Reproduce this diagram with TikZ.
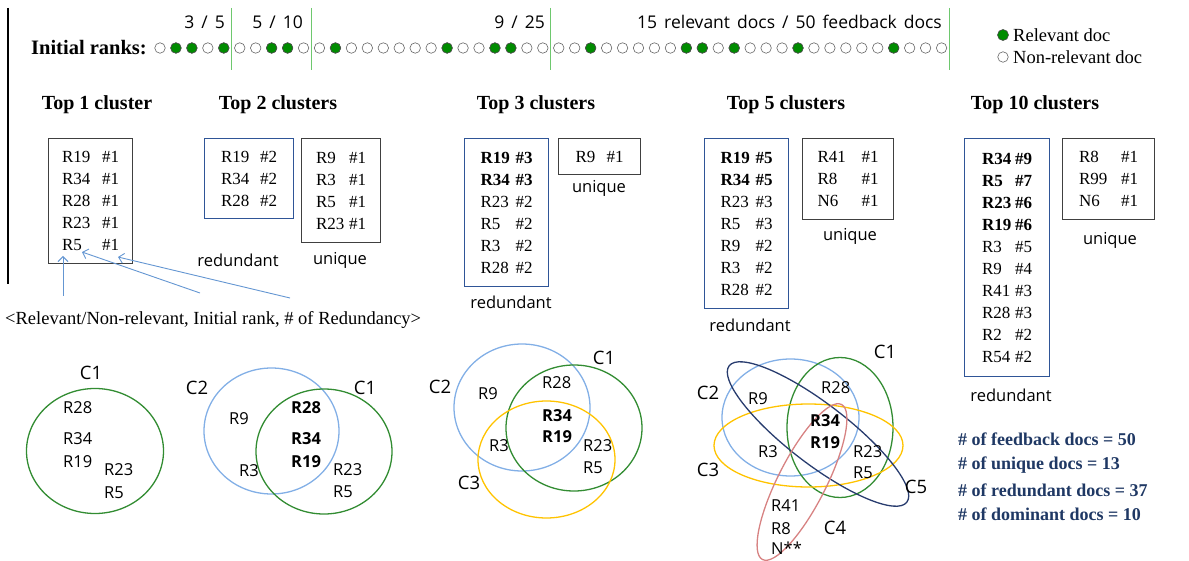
\documentclass[tikz,border=0pt]{standalone}
\usepackage{fontspec}
\setmainfont{Liberation Serif}
\newfontfamily\venfont{Open Sans}
\usetikzlibrary{arrows.meta, calc}

\definecolor{relgreen}{RGB}{0,140,0}
\definecolor{sepgreen}{RGB}{110,200,110}
\definecolor{boxblue}{RGB}{47,85,151}
\definecolor{arrblue}{RGB}{100,150,210}
\definecolor{cgreen}{RGB}{50,140,50}
\definecolor{cblue}{RGB}{130,175,230}
\definecolor{cyellow}{RGB}{255,195,0}
\definecolor{cnavy}{RGB}{40,60,110}
\definecolor{cpink}{RGB}{215,130,130}
\definecolor{numblue}{RGB}{31,56,100}

\newlength{\rkw}
\newcommand{\rk}[2]{\makebox[\rkw][l]{#1}\##2}
\newcommand{\rkb}[2]{\textbf{\makebox[\rkw][l]{#1}\##2}}

\begin{document}
\begin{tikzpicture}[x=1pt, y=-1pt,
    doc/.style={circle, draw=black!60, fill=white, line width=0.6pt,
                minimum size=10.5pt, inner sep=0pt},
    sepline/.style={sepgreen, line width=1.2pt},
    hd/.style={font=\fontsize{20}{24}\selectfont\bfseries},
    txt/.style={font=\fontsize{18.5}{21}\selectfont, inner sep=0pt},
    lab/.style={font=\venfont\fontsize{16.5}{19}\selectfont, inner sep=1pt},
    toplab/.style={font=\venfont\fontsize{17.5}{20}\selectfont\setlength{\spaceskip}{0.4em},
                   inner sep=1pt, anchor=east},
    clab/.style={font=\venfont\fontsize{18.5}{21}\selectfont, inner sep=1pt},
    listbox/.style={draw=black!75, line width=1.2pt, anchor=north west,
                    align=left, inner sep=0pt,
                    font=\fontsize{17}{22}\selectfont},
    redbox/.style={listbox, draw=boxblue},
    colw/.code={\global\rkw=#1\relax},
    venn/.style={line width=1.3pt},
    note/.style={-{Straight Barb[length=5pt, width=10pt]}, arrblue, line width=0.9pt},
    count/.style={font=\fontsize{18}{21}\selectfont\bfseries, text=numblue,
                  anchor=west, inner sep=0pt}]
\useasboundingbox (0,0) rectangle (1189,561);

% initial ranking strip
\draw[line width=1.3pt] (8,8) -- (8,284);
\node[hd, anchor=east, inner sep=0pt, font=\fontsize{20.5}{24}\selectfont\bfseries] (ranks) at (147,48) {Initial ranks:};
\foreach \i in {1,...,50}
  \node[doc] (d\i) at ({160+15.95*(\i-1)},48) {};
\foreach \i in {2,3,5,8,9,12,19,22,23,28,34,35,37,41,47}
  \filldraw[fill=relgreen, draw=black!70, line width=0.6pt] (d\i) circle (5.25pt);
\foreach \a/\b in {5/6,10/11,25/26}
  \draw[sepline] ($(d\a)!.5!(d\b)$) ++(0,-40) -- ++(0,62);
\draw[sepline] ($(d50)+(8,0)$) ++(0,-40) -- ++(0,62);
\node[toplab] (p5) at (226,22) {3 / 5};
\node[toplab] (p10) at (304,22) {5 / 10};
\node[toplab] (p25) at (546,22) {9 / 25};
\node[toplab] (p50) at (943,22) {15 relevant docs / 50 feedback docs};

% legend
\node[doc, minimum size=11pt, fill=relgreen, draw=black!70] (lr) at (1003,35) {};
\node[txt, anchor=west] (lrt) at (1013,35) {Relevant doc};
\node[doc] (ln) at (1003,57) {};
\node[txt, anchor=west] (lnt) at (1013,57) {Non-relevant doc};

% cluster titles
\node[hd] (h1) at (97,105) {Top 1 cluster};
\node[hd] (h2) at (278,105) {Top 2 clusters};
\node[hd] (h3) at (536,105) {Top 3 clusters};
\node[hd] (h5) at (786,105) {Top 5 clusters};
\node[hd] (h10) at (1035,105) {Top 10 clusters};

% document lists
\node[listbox, colw=40pt, minimum width=84pt, minimum height=125pt] (b1) at (48,138)
  {\rk{R19}{1}\\ \rk{R34}{1}\\ \rk{R28}{1}\\ \rk{R23}{1}\\ \rk{R5}{1}};
\node[redbox, colw=39pt, minimum width=89pt, minimum height=80pt] (b2r) at (204,138)
  {\rk{R19}{2}\\ \rk{R34}{2}\\ \rk{R28}{2}};
\node[listbox, colw=33pt, minimum width=79pt, minimum height=104pt] (b2u) at (301,138)
  {\rk{R9}{1}\\ \rk{R3}{1}\\ \rk{R5}{1}\\ \rk{R23}{1}};
\node[redbox, colw=35pt, minimum width=84pt, minimum height=148pt] (b3r) at (464,138)
  {\rkb{R19}{3}\\ \rkb{R34}{3}\\ \rk{R23}{2}\\ \rk{R5}{2}\\ \rk{R3}{2}\\ \rk{R28}{2}};
\node[listbox, colw=31pt, minimum width=82pt, minimum height=36pt] (b3u) at (558,138)
  {\rk{R9}{1}};
\node[redbox, colw=35pt, minimum width=84pt, minimum height=170pt] (b5r) at (704,138)
  {\rkb{R19}{5}\\ \rkb{R34}{5}\\ \rk{R23}{3}\\ \rk{R5}{3}\\ \rk{R9}{2}\\ \rk{R3}{2}\\ \rk{R28}{2}};
\node[listbox, colw=44pt, minimum width=91pt, minimum height=81pt] (b5u) at (802,138)
  {\rk{R41}{1}\\ \rk{R8}{1}\\ \rk{N6}{1}};
\node[redbox, colw=33pt, minimum width=85pt, minimum height=238pt] (b10r) at (964,138)
  {\rkb{R34}{9}\\ \rkb{R5}{7}\\ \rkb{R23}{6}\\ \rkb{R19}{6}\\ \rk{R3}{5}\\ \rk{R9}{4}\\
   \rk{R41}{3}\\ \rk{R28}{3}\\ \rk{R2}{2}\\ \rk{R54}{2}};
\node[listbox, colw=42pt, minimum width=92pt, minimum height=81pt] (b10u) at (1062,138)
  {\rk{R8}{1}\\ \rk{R99}{1}\\ \rk{N6}{1}};

\node[lab] (c2r) at (238,260) {redundant};
\node[lab] (c2u) at (340,260) {unique};
\node[lab] (c3u) at (599,188) {unique};
\node[lab] (c3r) at (511,302) {redundant};
\node[lab] (c5u) at (850,236) {unique};
\node[lab] (c5r) at (750,325) {redundant};
\node[lab] (c10u) at (1110,240) {unique};
\node[lab] (c10r) at (1011,395) {redundant};

% notation
\node[txt, anchor=west] (legend) at (5,320)
  {<Relevant/Non-relevant, Initial rank, \# of Redundancy>};
\coordinate (n1) at (63,296);
\coordinate (n2) at (200,293);
\coordinate (n3) at (290,298);
\coordinate (t1) at (63,256);
\coordinate (t2) at (82,252);
\coordinate (t3) at (118,257);
\draw[note] (n1) -- (t1);
\draw[note] (n2) -- (t2);
\draw[note] (n3) -- (t3);

% venn: top 1
\draw[venn, cgreen] (95,451) ellipse [x radius=68.5pt, y radius=62.5pt];
\node[clab] (v1c1) at (91,373) {C1};
\foreach \n/\x/\y/\t in {a/62/408/R28, b/62/439/R34, c/62/462/R19,
                         d/103/470/R23, e/103/493/R5}
  \node[lab, anchor=west] (v1\n) at (\x,\y) {\t};

% venn: top 2
\draw[venn, cblue] (271.5,431) ellipse [x radius=67.5pt, y radius=63pt];
\draw[venn, cgreen] (324,451.5) ellipse [x radius=68pt, y radius=62.5pt];
\node[clab] (v2c2) at (197,388) {C2};
\node[clab] (v2c1) at (365,388) {C1};
\foreach \n/\x/\y/\t in {a/228/419/R9, b/290/408/\textbf{R28}, c/290/439/\textbf{R34},
                         d/290/462/\textbf{R19}, e/238/471/R3, f/332/470/R23, g/332/492/R5}
  \node[lab, anchor=west] (v2\n) at (\x,\y) {\t};

% venn: top 3
\draw[venn, cblue] (522,407.5) ellipse [x radius=68pt, y radius=63.5pt];
\draw[venn, cgreen] (574,428) ellipse [x radius=68pt, y radius=63pt];
\draw[venn, cyellow] (546.5,459.5) ellipse [x radius=68.5pt, y radius=58.5pt];
\node[clab] (v3c2) at (440,387) {C2};
\node[clab] (v3c1) at (604,358) {C1};
\node[clab] (v3c3) at (469,483) {C3};
\foreach \n/\x/\y/\t in {a/477/394/R9, b/541/383/R28, c/541/416/\textbf{R34},
                         d/541/437/\textbf{R19}, e/488/446/R3, f/582/446/R23, g/582/468/R5}
  \node[lab, anchor=west] (v3\n) at (\x,\y) {\t};

% venn: top 5
\draw[venn, cblue] (790.5,417.5) ellipse [x radius=68.5pt, y radius=58.5pt];
\draw[venn, cgreen] (840,427.5) ellipse [x radius=53pt, y radius=70pt];
\draw[venn, cyellow] (808.5,445.5) ellipse [x radius=94.5pt, y radius=41.5pt];
\draw[venn, cnavy, shift={(818,434)}, rotate=-37.5] (0,0) ellipse [x radius=112pt, y radius=30pt];
\draw[venn, cpink, shift={(802,482)}, rotate=63] (0,0) ellipse [x radius=87pt, y radius=24pt];
\node[clab] (v5c1) at (885,352) {C1};
\node[clab] (v5c2) at (708,393) {C2};
\node[clab] (v5c3) at (708,470) {C3};
\node[clab] (v5c5) at (916,487) {C5};
\node[clab] (v5c4) at (835,528) {C4};
\foreach \n/\x/\y/\t in {a/747/399/R9, b/820/388/R28, c/809/421/\textbf{R34},
                         d/809/443/\textbf{R19}, e/757/452/R3, f/852/452/R23, g/852/473/R5,
                         h/770/506/R41, i/770/529/R8, j/770/548/N**}
  \node[lab, anchor=west] (v5\n) at (\x,\y) {\t};

% counts
\node[count] (k1) at (958,439) {\# of feedback docs = 50};
\node[count] (k2) at (958,465) {\# of unique docs = 13};
\node[count] (k3) at (958,490) {\# of redundant docs = 37};
\node[count] (k4) at (958,514) {\# of dominant docs = 10};
\end{tikzpicture}
\end{document}
